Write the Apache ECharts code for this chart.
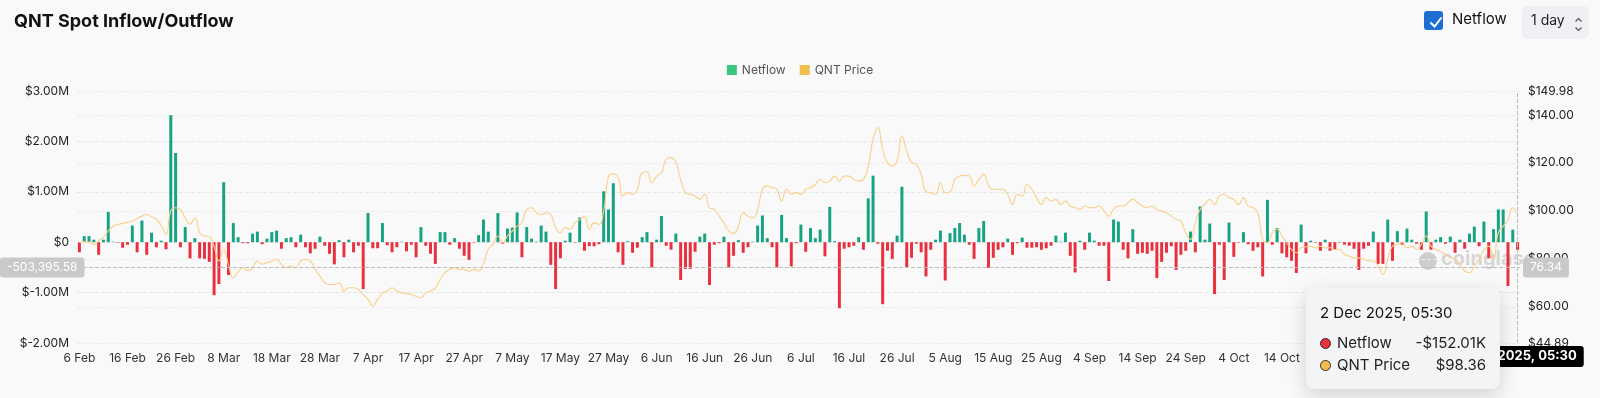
<!DOCTYPE html>
<html lang="en">
<head>
    <meta charset="UTF-8">
    <title>QNT Spot Inflow/Outflow</title>
    <style>
        html, body { margin: 0; padding: 0; background: #f9f9f9; }
        #chart_flow { width: 1600px; height: 398px; }
    </style>
</head>
<body>
<div id="chart_flow"></div>
<script src="https://cdn.jsdelivr.net/npm/echarts@6.0.0/dist/echarts.min.js"></script>
<script>
    // daily netflow in $M, starting 6 Feb 2025
    var netflow = [
        -0.2, 0.12, 0.12, 0.05, -0.25, 0.05, 0.6, 0.01, -0.01, -0.11,
        -0.05, 0.33, -0.2, 0.43, -0.25, 0.19, -0.1, 0.03, -0.14, 2.52,
        1.77, -0.1, 0.3, -0.32, 0.08, -0.32, -0.33, -0.39, -1.05, -0.83,
        1.19, -0.65, 0.38, 0.1, -0.02, -0.02, 0.17, 0.21, -0.04, 0.07,
        0.2, 0.23, -0.13, 0.08, 0.1, -0.1, 0.15, -0.1, -0.22, -0.13,
        0.11, -0.07, -0.23, -0.44, 0.04, -0.3, 0.05, -0.2, -0.07, -0.93,
        0.58, -0.12, -0.12, 0.38, -0.06, -0.2, -0.1, 0.01, -0.18, -0.05,
        -0.3, 0.3, -0.07, -0.23, -0.43, 0.2, 0.2, -0.05, 0.08, -0.13,
        -0.27, -0.35, -0.01, 0.14, 0.45, 0.21, 0, 0.58, -0.03, 0.27,
        0.29, 0.59, -0.3, 0.3, 0.07, 0.01, 0.33, 0.21, -0.45, -0.93,
        -0.32, 0.03, 0.19, -0.01, 0.49, -0.17, -0.08, -0.08, -0.04, 1.01,
        0.65, 1.17, -0.2, -0.45, 0.02, -0.21, -0.11, 0.1, 0.2, -0.5,
        0.05, 0.52, -0.07, -0.15, 0.17, -0.75, -0.53, -0.53, -0.19, 0.11,
        0.17, -0.85, -0.05, -0.02, 0.11, -0.5, -0.27, 0.04, -0.21, -0.1,
        0.01, 0.33, 0.53, 0.08, -0.1, -0.5, 0.54, 0.08, -0.48, -0.02,
        0.35, -0.19, 0.28, 0.08, 0.25, -0.28, 0.7, 0.02, -1.31, -0.13,
        -0.1, -0.07, 0.1, -0.15, 0.87, 1.32, -0.03, -1.23, -0.17, -0.33,
        0.13, 1.1, -0.5, -0.31, -0.03, -0.2, -0.68, -0.15, 0.05, 0.23,
        -0.76, 0.18, 0.28, 0.38, 0.15, -0.05, -0.33, 0.28, 0.42, -0.51,
        -0.31, -0.15, -0.1, 0.07, -0.25, -0.02, 0.09, -0.11, -0.11, -0.1,
        -0.15, -0.12, -0.07, 0.13, 0.01, 0.19, -0.27, -0.6, 0.03, -0.15,
        0.19, 0.03, -0.07, -0.07, -0.77, 0.45, 0.41, -0.15, -0.32, 0.26,
        -0.23, -0.21, -0.23, -0.17, -0.71, -0.39, -0.21, -0.08, -0.55, -0.25,
        -0.17, 0.21, -0.2, 0.71, 0.05, 0.37, -1.03, -0.05, -0.75, 0.39,
        -0.29, -0.01, 0.2, -0.04, -0.17, -0.1, -0.68, 0.84, -0.05, 0.28,
        -0.22, -0.3, -0.37, -0.61, 0.35, -0.22, 0.03, -0.01, -0.17, 0.05,
        -0.17, -0.15, -0.01, -0.05, -0.07, -0.13, -0.55, -0.13, -0.07, 0.21,
        -0.43, -0.43, 0.45, -0.37, 0.22, -0.05, 0.27, 0.05, -0.03, -0.15,
        0.61, -0.15, 0.05, 0.1, -0.03, 0.11, -0.21, 0.05, -0.13, 0.17,
        0.31, -0.08, 0.41, -0.32, 0.26, 0.65, 0.65, -0.87, 0.25, -0.15201
    ];

    // QNT price in $
    var qntPrice = [
        86.7, 87.2, 87.0, 86.0, 87.5, 89.0, 91.6, 93.6, 94.3, 94.8,
        95.2, 95.7, 96.8, 97.8, 98.5, 97.5, 96.4, 94.0, 90.0, 99.9,
        101.3, 100.6, 97.0, 94.5, 97.1, 90.9, 89.5, 89.3, 85.0, 79.1,
        83.9, 77.5, 72.0, 74.5, 76.3, 75.0, 76.0, 79.1, 77.7, 78.4,
        79.0, 79.8, 77.7, 76.3, 77.0, 76.3, 79.1, 79.8, 79.1, 75.6,
        72.8, 70.0, 69.3, 69.3, 70.0, 66.6, 67.9, 67.9, 67.2, 65.1,
        63.1, 60.3, 63.1, 65.8, 66.6, 67.9, 66.6, 65.8, 65.5, 65.1,
        64.4, 63.7, 65.8, 66.6, 67.9, 71.4, 74.2, 75.6, 76.3, 75.6,
        75.6, 74.9, 75.6, 74.9, 78.0, 84.0, 86.0, 89.5, 86.7, 89.5,
        91.6, 93.6, 95.0, 100.6, 101.3, 99.2, 98.5, 99.2, 98.5, 93.0,
        90.9, 93.0, 92.3, 95.0, 96.4, 97.8, 92.3, 95.0, 94.3, 100.0,
        114.5, 115.5, 113.8, 106.2, 107.6, 106.9, 109.0, 115.9, 116.3, 111.7,
        114.5, 115.9, 121.5, 122.2, 120.1, 113.1, 107.6, 106.9, 106.2, 104.8,
        106.9, 101.3, 100.6, 97.8, 95.0, 91.6, 90.6, 93.6, 99.2, 97.8,
        97.1, 100.6, 109.0, 110.4, 109.7, 109.0, 104.1, 109.0, 106.9, 107.6,
        106.9, 109.0, 109.7, 111.0, 113.1, 111.7, 112.4, 114.5, 112.4, 114.5,
        114.5, 113.1, 112.4, 113.1, 118.7, 129.8, 134.7, 125.6, 120.1, 118.7,
        120.8, 131.2, 124.9, 120.1, 119.4, 115.0, 108.0, 107.6, 106.9, 111.7,
        107.6, 108.0, 113.1, 114.5, 114.8, 114.5, 110.4, 113.1, 115.2, 110.4,
        109.0, 109.0, 109.0, 106.9, 102.7, 106.9, 106.2, 111.0, 109.0, 105.5,
        102.7, 105.5, 104.1, 104.8, 102.7, 104.1, 102.0, 101.3, 100.6, 102.0,
        101.3, 101.3, 102.0, 99.9, 97.8, 100.6, 102.0, 102.0, 103.4, 104.8,
        103.4, 102.0, 101.3, 102.0, 100.5, 99.9, 99.2, 97.8, 96.5, 95.7,
        90.9, 88.1, 95.0, 100.6, 102.7, 104.8, 102.7, 106.2, 106.9, 105.5,
        104.8, 102.7, 105.5, 102.0, 101.3, 99.2, 88.1, 86.7, 90.9, 92.3,
        89.5, 86.7, 83.9, 82.5, 84.6, 85.0, 85.3, 84.6, 85.3, 84.6,
        84.6, 83.9, 83.9, 81.8, 81.1, 80.4, 80.4, 79.8, 79.1, 79.1,
        77.0, 73.5, 80.0, 85.3, 86.0, 86.7, 84.6, 85.3, 83.9, 86.0,
        89.5, 85.3, 83.9, 83.0, 81.8, 80.5, 79.8, 77.7, 74.9, 74.2,
        77.0, 79.8, 83.5, 85.3, 79.8, 90.9, 93.6, 96.4, 101.3, 98.36
    ];

    var netflowTicks = [-2, -1, 0, 1, 2, 3];
    var priceRange = [44.89, 149.98];
    var startDay = [2025, 1, 6];
    var sampleTime = '05:30';
    var cursorNetflow = -0.50339558;

    var monthNames = ['Jan', 'Feb', 'Mar', 'Apr', 'May', 'Jun', 'Jul', 'Aug', 'Sep', 'Oct', 'Nov', 'Dec'];
    var days = [];
    for (var i = 0; i < netflow.length; i++) {
        var d = new Date(Date.UTC(startDay[0], startDay[1], startDay[2] + i));
        days.push(d.getUTCFullYear() + '-' + (d.getUTCMonth() + 1) + '-' + d.getUTCDate());
    }
    function shortDay(s) {
        var p = s.split('-');
        return p[2] + ' ' + monthNames[+p[1] - 1];
    }
    function longDay(s) {
        var p = s.split('-');
        return p[2] + ' ' + monthNames[+p[1] - 1] + ' ' + p[0] + ', ' + sampleTime;
    }
    function fmtFlow(v) {
        var a = Math.abs(v);
        var s = a >= 1 ? a.toFixed(2) + 'M' : (a * 1000).toFixed(2) + 'K';
        return (v < 0 ? '-$' : '$') + s;
    }

    var GREEN = '#17a382', RED = '#e8303f', GOLD = '#f8d08a';
    var FONT = 'Inter, "Noto Sans", sans-serif';

    var myChart = echarts.init(document.getElementById('chart_flow'));

    function dot(color) {
        return '<span style="display:inline-block;width:9px;height:9px;border-radius:50%;background:' + color +
            ';border:1.5px solid #3a2a2a;margin-right:6px;vertical-align:-1px"></span>';
    }

    myChart.setOption({
        backgroundColor: '#f9f9f9',
        animation: false,
        textStyle: { fontFamily: FONT },
        title: {
            text: 'QNT Spot Inflow/Outflow',
            left: 9, top: 8,
            textStyle: { fontSize: 18, fontWeight: 'bold', color: '#111', fontFamily: FONT }
        },
        legend: {
            top: 59, left: 'center',
            icon: 'rect', itemWidth: 10, itemHeight: 10, itemGap: 14,
            textStyle: { fontSize: 12, color: '#555' },
            data: [
                { name: 'Netflow', itemStyle: { color: '#3cc67b' } },
                { name: 'QNT Price', itemStyle: { color: '#f0bd4f' } }
            ]
        },
        grid: { left: 77, right: 80, top: 91, bottom: 55 },
        tooltip: {
            trigger: 'axis',
            alwaysShowContent: true,
            transitionDuration: 0,
            backgroundColor: '#f3f4f6',
            borderWidth: 0,
            padding: [15, 14, 13, 14],
            extraCssText: 'border-radius:8px;box-shadow:0 6px 20px rgba(0,0,0,0.16);',
            axisPointer: {
                type: 'cross',
                lineStyle: { color: '#bdbdbd', type: 'dashed', width: 1 },
                crossStyle: { color: '#bdbdbd', type: 'dashed', width: 1 }
            },
            position: function (point) {
                return [point[0] - 212, point[1] + 20];
            },
            formatter: function (params) {
                var idx = params[0].dataIndex;
                var f = netflow[idx];
                var html = '<div style="font-family:' + FONT.replace(/"/g, "'") + ';">';
                html += '<div style="font-size:15px;color:#111;line-height:20px;margin-bottom:9px">' + longDay(days[idx]) + '</div>';
                html += '<div style="display:flex;justify-content:space-between;width:166px;font-size:15px;color:#222;line-height:22px">' +
                    '<span>' + dot(f < 0 ? RED : GREEN) + 'Netflow</span><span>' + fmtFlow(f) + '</span></div>';
                html += '<div style="display:flex;justify-content:space-between;width:166px;font-size:15px;color:#222;line-height:22px">' +
                    '<span>' + dot('#f0bd4f') + 'QNT Price</span><span>$' + qntPrice[idx].toFixed(2) + '</span></div>';
                return html + '</div>';
            }
        },
        xAxis: {
            type: 'category',
            data: days,
            boundaryGap: true,
            axisLine: { show: false },
            axisTick: { show: false },
            axisLabel: {
                interval: 9, margin: 9, fontSize: 12, color: '#333',
                formatter: shortDay
            },
            axisPointer: {
                label: {
                    backgroundColor: '#000', color: '#fff', fontWeight: 'bold', fontSize: 13,
                    padding: [4, 7], borderRadius: 3,
                    formatter: function (p) { return longDay(p.value); }
                }
            }
        },
        yAxis: [{
            type: 'value',
            min: netflowTicks[0],
            max: netflowTicks[netflowTicks.length - 1],
            interval: 1,
            axisLine: { show: false },
            axisTick: { show: false },
            splitLine: { lineStyle: { color: '#e6e6e6', type: 'dashed' } },
            axisLabel: {
                margin: 8, fontSize: 12, color: '#222',
                formatter: function (v) { return v === 0 ? '$0' : '$' + v.toFixed(2) + 'M'; }
            },
            axisPointer: {
                label: {
                    backgroundColor: '#c9c9c9', color: '#fff', fontSize: 12, padding: [4, 7], borderRadius: 3,
                    formatter: function (p) {
                        return (p.value * 1e6).toLocaleString('en-US', { minimumFractionDigits: 2, maximumFractionDigits: 2 });
                    }
                }
            }
        }, {
            type: 'value',
            min: priceRange[0],
            max: priceRange[1],
            splitNumber: 5,
            axisLine: { show: false },
            axisTick: { show: false },
            splitLine: { show: true, lineStyle: { color: '#ececec', type: 'dashed' } },
            axisLabel: {
                margin: 8, fontSize: 12, color: '#222',
                formatter: function (v) { return '$' + v.toFixed(2); }
            },
            axisPointer: {
                label: {
                    backgroundColor: '#c9c9c9', color: '#fff', fontSize: 12, padding: [4, 7], borderRadius: 3,
                    formatter: function (p) { return (Math.floor(p.value * 100) / 100).toFixed(2); }
                }
            }
        }],
        series: [{
            name: 'Netflow',
            type: 'bar',
            data: netflow,
            barWidth: '62%',
            itemStyle: {
                color: function (p) { return p.value < 0 ? RED : GREEN; }
            },
            emphasis: { disabled: true }
        }, {
            name: 'QNT Price',
            type: 'line',
            yAxisIndex: 1,
            data: qntPrice,
            smooth: true,
            symbol: 'none',
            lineStyle: { color: GOLD, width: 1.1 },
            itemStyle: { color: '#f0bd4f' },
            z: 3,
            emphasis: { disabled: true }
        }],
        graphic: [
            // watermark
            { type: 'circle', left: 1419, top: 252, shape: { r: 9 }, style: { fill: 'rgba(150,150,150,0.45)' }, silent: true },
            { type: 'text', left: 1441, top: 249, style: { text: 'coinglass', fontSize: 20, fontWeight: 'bold', fill: 'rgba(160,160,160,0.4)', fontFamily: FONT }, silent: true },
            // netflow checkbox
            { type: 'rect', left: 1424, top: 11, shape: { width: 19, height: 19, r: 3 }, style: { fill: '#1c6fd1' } },
            { type: 'polyline', left: 1428, top: 15, shape: { points: [[0, 6], [4, 10], [11, 1]] }, style: { stroke: '#fff', lineWidth: 2, fill: null } },
            { type: 'text', left: 1452, top: 12, style: { text: 'Netflow', fontSize: 15, fill: '#111', fontFamily: FONT } },
            // interval select
            { type: 'rect', left: 1522, top: 6, shape: { width: 67, height: 33, r: 6 }, style: { fill: '#eef0f3' } },
            { type: 'text', left: 1531, top: 14, style: { text: '1 day', fontSize: 14, fill: '#222', fontFamily: FONT } },
            { type: 'polyline', left: 1573, top: 16, shape: { points: [[0, 3], [3, 0], [6, 3]] }, style: { stroke: '#555', lineWidth: 1.2, fill: null } },
            { type: 'polyline', left: 1573, top: 25, shape: { points: [[0, 0], [3, 3], [6, 0]] }, style: { stroke: '#555', lineWidth: 1.2, fill: null } }
        ]
    });

    // hover state of the reference: last day, cursor on the netflow axis
    var px = myChart.convertToPixel({ xAxisIndex: 0, yAxisIndex: 0 }, [netflow.length - 1, cursorNetflow]);
    myChart.dispatchAction({ type: 'showTip', x: px[0], y: px[1] });
</script>
</body>
</html>
